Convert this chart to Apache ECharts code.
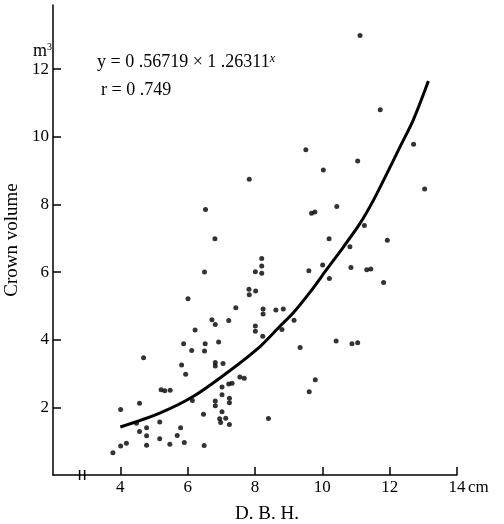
<!DOCTYPE html>
<html lang="en">
<head>
<meta charset="UTF-8">
<title>Crown volume vs D.B.H.</title>
<script src="https://cdn.jsdelivr.net/npm/echarts@6/dist/echarts.min.js"></script>
<style>html,body{margin:0;padding:0;background:#fff}</style>
</head>
<body>
<div id="main" style="width:504px;height:524px"></div>
<script>
// measured trees: D.B.H. (cm) and crown volume (m3)
const dbh = [
  11.12, 11.72, 9.51, 12.71, 10.03, 11.05, 13.04, 9.68, 9.78, 10.43,
  10.20, 11.25, 11.93, 10.82, 8.20, 8.20, 8.20, 9.60, 10.01, 10.85,
  10.21, 11.32, 11.44, 11.82, 8.24, 8.24, 8.62, 8.84, 9.16, 8.80,
  8.23, 9.34, 10.41, 10.88, 11.05, 9.79, 9.61, 8.40, 7.83, 6.53,
  6.81, 6.50, 8.01, 7.82, 7.83, 8.02, 6.01, 7.43, 6.72, 6.82,
  7.22, 6.22, 8.01, 8.01, 5.88, 6.52, 6.92, 6.12, 6.50, 4.69,
  6.82, 6.82, 7.05, 5.82, 5.94, 7.55, 7.68, 5.21, 5.32, 5.48,
  7.22, 7.32, 7.02, 7.02, 7.24, 7.24, 6.82, 6.82, 6.14, 4.57,
  4.01, 7.02, 6.47, 6.95, 6.98, 7.13, 7.24, 4.48, 5.17, 5.79,
  4.78, 4.57, 4.78, 5.69, 5.17, 5.90, 5.47, 4.18, 4.01, 4.78,
  6.49, 3.78
];
const crown = [
  13.00, 10.80, 9.62, 9.78, 9.02, 9.29, 8.46, 7.74, 7.78, 7.94,
  6.99, 7.38, 6.94, 6.75, 6.40, 6.18, 5.97, 6.04, 6.21, 6.14,
  5.81, 6.07, 6.09, 5.69, 4.91, 4.76, 4.88, 4.91, 4.58, 4.30,
  4.10, 3.77, 3.96, 3.88, 3.91, 2.82, 2.46, 1.67, 8.75, 7.85,
  6.99, 6.00, 6.01, 5.49, 5.33, 5.44, 5.21, 4.95, 4.59, 4.45,
  4.57, 4.29, 4.41, 4.25, 3.88, 3.88, 3.93, 3.68, 3.67, 3.47,
  3.33, 3.22, 3.30, 3.25, 2.98, 2.90, 2.86, 2.52, 2.49, 2.51,
  2.69, 2.71, 2.60, 2.37, 2.27, 2.14, 2.19, 2.05, 2.20, 2.12,
  1.94, 1.87, 1.80, 1.66, 1.55, 1.68, 1.49, 1.53, 1.57, 1.40,
  1.40, 1.29, 1.16, 1.17, 1.07, 0.96, 0.91, 0.94, 0.86, 0.88,
  0.87, 0.66
];
// fitted curve
const fitX = [4.00, 5.17, 6.16, 7.15, 8.15, 8.74, 9.14, 9.63, 10.13, 10.63, 11.12, 11.52, 11.92, 12.31, 12.71, 13.15];
const fitY = [1.42, 1.83, 2.32, 3.01, 3.80, 4.40, 4.80, 5.40, 6.08, 6.75, 7.44, 8.13, 8.92, 9.71, 10.52, 11.65];
const xTicks = [4, 6, 8, 10, 12, 14];
const yTicks = [2, 4, 6, 8, 10, 12];

const serif = '"Liberation Serif", "DejaVu Serif", serif';
const ink = '#000';

const chart = echarts.init(document.getElementById('main'));

chart.setOption({
  animation: false,
  grid: {left: 53, right: 47, top: 5, bottom: 49, containLabel: false, outerBoundsMode: 'none'},
  xAxis: {
    type: 'value', min: 2, max: 14, interval: 2,
    name: 'D. B. H.', nameLocation: 'middle', nameGap: 30,
    nameTextStyle: {fontFamily: serif, fontSize: 19, color: ink, padding: [0, 0, 0, 24]},
    axisLine: {lineStyle: {color: ink, width: 1.5}},
    axisTick: {inside: true, length: 8, customValues: xTicks, lineStyle: {color: ink, width: 1.5}},
    axisLabel: {customValues: xTicks, fontFamily: serif, fontSize: 17, color: ink, margin: 4},
    splitLine: {show: false}
  },
  yAxis: {
    type: 'value', min: 0, max: 13.9, interval: 2,
    name: 'Crown volume', nameLocation: 'middle', nameGap: 28, nameRotate: 90,
    nameTextStyle: {fontFamily: serif, fontSize: 19, color: ink},
    axisLine: {lineStyle: {color: ink, width: 1.5}},
    axisTick: {inside: true, length: 8, customValues: yTicks, lineStyle: {color: ink, width: 1.5}},
    axisLabel: {customValues: yTicks, fontFamily: serif, fontSize: 17, color: ink, margin: 4},
    splitLine: {show: false}
  },
  series: [
    {
      type: 'scatter',
      data: dbh.map((d, i) => [d, crown[i]]),
      symbolSize: 5,
      itemStyle: {color: ink}
    },
    {
      type: 'line',
      data: fitX.map((d, i) => [d, fitY[i]]),
      smooth: 0.3,
      showSymbol: false,
      lineStyle: {color: ink, width: 3}
    }
  ]
});

// annotations placed from the axis scales
const org = chart.convertToPixel({gridIndex: 0}, [2, 0]);
const end = chart.convertToPixel({gridIndex: 0}, [14, 0]);
const b1 = chart.convertToPixel({gridIndex: 0}, [2.79, 0]);
const b2 = chart.convertToPixel({gridIndex: 0}, [2.94, 0]);
const y12 = chart.convertToPixel({gridIndex: 0}, [2, 12]);

chart.setOption({
  graphic: [
    {type: 'line', shape: {x1: b1[0], y1: org[1] - 5, x2: b1[0], y2: org[1] + 5}, style: {stroke: ink, lineWidth: 1.5}},
    {type: 'line', shape: {x1: b2[0], y1: org[1] - 5, x2: b2[0], y2: org[1] + 5}, style: {stroke: ink, lineWidth: 1.5}},
    {
      type: 'text', x: end[0] + 11, y: end[1] + 13,
      style: {text: 'cm', font: '17px ' + serif, fill: ink, verticalAlign: 'middle'}
    },
    {
      type: 'text', x: y12[0] - 1, y: y12[1] - 18,
      style: {
        text: '{m|m}{s|3}', align: 'right', verticalAlign: 'middle', fill: ink,
        rich: {
          m: {fontFamily: serif, fontSize: 18, verticalAlign: 'bottom'},
          s: {fontFamily: serif, fontSize: 10, verticalAlign: 'top'}
        }
      }
    },
    {
      type: 'text', x: 97, y: 62,
      style: {
        text: '{a|y = 0 .56719 × 1 .26311}{s|x}', verticalAlign: 'middle', fill: ink,
        rich: {
          a: {fontFamily: serif, fontSize: 18, verticalAlign: 'bottom'},
          s: {fontFamily: serif, fontSize: 12, fontStyle: 'italic', verticalAlign: 'top'}
        }
      }
    },
    {
      type: 'text', x: 101, y: 90,
      style: {text: 'r = 0 .749', font: '18px ' + serif, fill: ink, verticalAlign: 'middle'}
    }
  ]
});
</script>
</body>
</html>
